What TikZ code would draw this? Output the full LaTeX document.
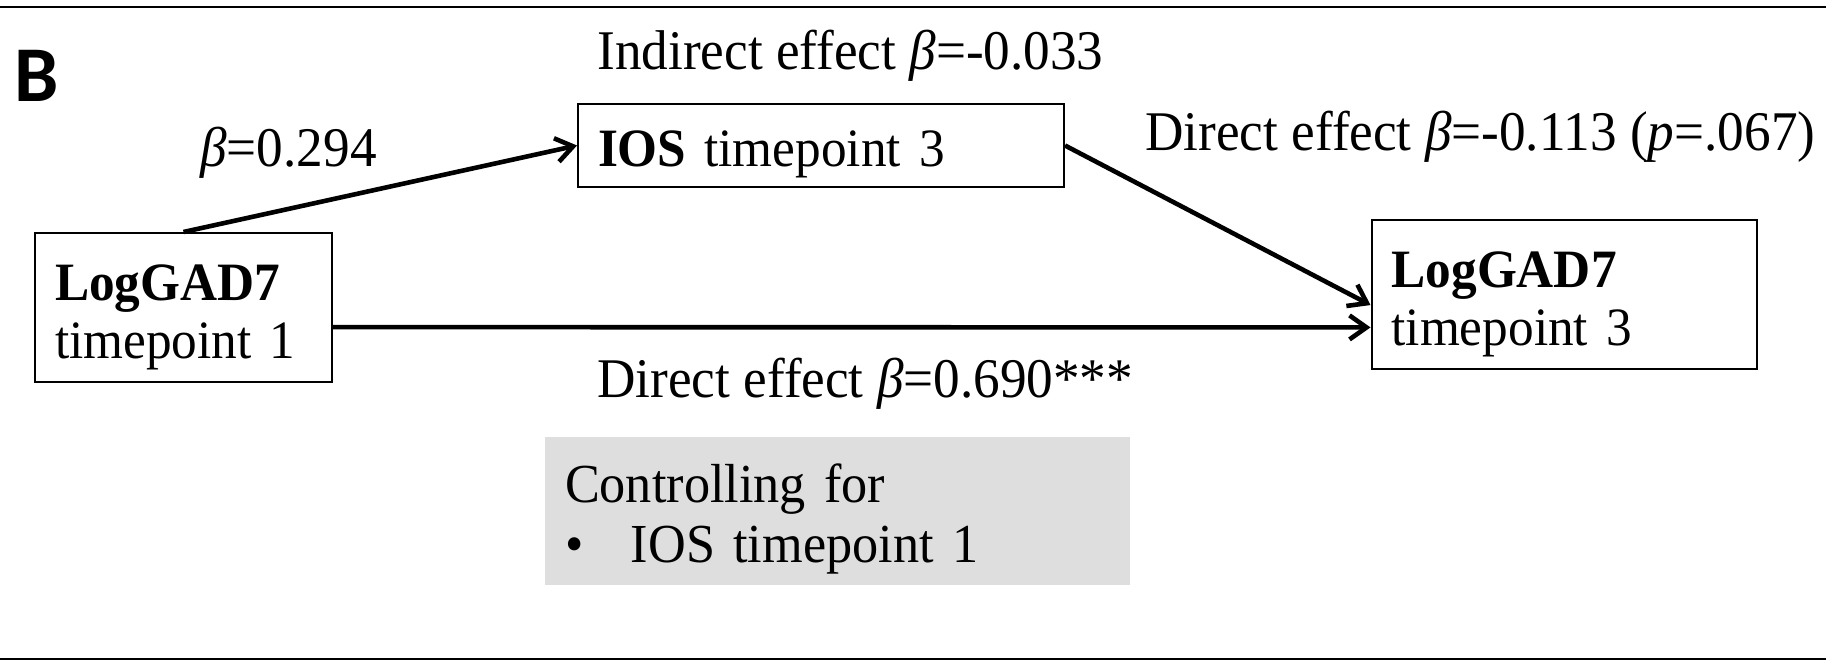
\documentclass[tikz,border=0pt]{standalone}
\usepackage{fontspec}
\setmainfont{Liberation Serif}[FakeStretch=0.95]
\newfontfamily\panelfont{Carlito}
\usetikzlibrary{arrows.meta,calc}
\definecolor{graybg}{RGB}{222,222,222}
\newcommand{\topstrut}[1]{\rule{0pt}{#1}}
\newcommand{\botstrut}[1]{\rule[-#1]{0pt}{0pt}}
\begin{document}
\begin{tikzpicture}[x=0.5pt,y=-0.5pt,
  txt/.style={font=\fontsize{28pt}{30pt}\selectfont, inner sep=0pt, anchor=base west},
  box/.style={draw, line width=1pt, align=left, inner xsep=10pt, inner ysep=0pt,
    font=\fontsize{27pt}{29pt}\selectfont},
  ctrlbox/.style={fill=graybg, align=left, inner xsep=10pt, inner ysep=0pt,
    font=\fontsize{27.5pt}{30pt}\selectfont},
  conn/.style={line width=2.3pt, -{Straight Barb[length=8.5pt,width=12pt]}},
  rule/.style={line width=1.2pt}
]
\useasboundingbox (0,0) rectangle (1826,662);
\coordinate (tl) at (0,7);
\coordinate (tr) at (1826,7);
\coordinate (bl) at (0,659);
\coordinate (br) at (1826,659);
\draw[rule] (tl) -- (tr);
\draw[rule] (bl) -- (br);

\node[inner sep=0pt, anchor=base west, font=\panelfont\bfseries\fontsize{39.5pt}{40pt}\selectfont] (panel) at (14,102) {B};

\node[box, text width=128.5pt, minimum height=74.5pt] (g1) at (183.5,307.5)
  {\topstrut{29pt}\textbf{LogGAD7}\\timepoint 1\botstrut{7pt}};
\node[box, text width=223pt, minimum height=41.5pt] (ios) at (821,145.5)
  {\topstrut{28pt}\textbf{IOS} timepoint 3\botstrut{7pt}};
\node[box, text width=172.5pt, minimum height=74.5pt] (g3) at (1564,294.5)
  {\topstrut{29pt}\textbf{LogGAD7}\\timepoint 3\botstrut{7pt}};
\node[ctrlbox, text width=272.5pt, minimum height=74pt] (ctrl) at (837.5,511)
  {\topstrut{28.5pt}Controlling for\\\makebox[33pt][l]{•}IOS timepoint 1\botstrut{7pt}};

\node[txt] (lind) at (597,70) {Indirect effect {\itshape β}=-0.033};
\node[txt] (la) at (200,167) {{\itshape β}=0.294};
\node[txt] (lb) at (1145,151) {Direct effect {\itshape β}=-0.113 ({\itshape p}=.067)};
\node[txt] (lc) at (597,398) {Direct effect {\itshape β}=0.690***};

\draw[conn] (g1.north) -- (ios.west);
\draw[conn] (ios.east) -- ($(g3.north west)!0.57!(g3.south west)$);
\draw[conn] ($(g1.north east)!0.63!(g1.south east)$) -- ($(g3.north west)!0.718!(g3.south west)$);
\end{tikzpicture}
\end{document}
